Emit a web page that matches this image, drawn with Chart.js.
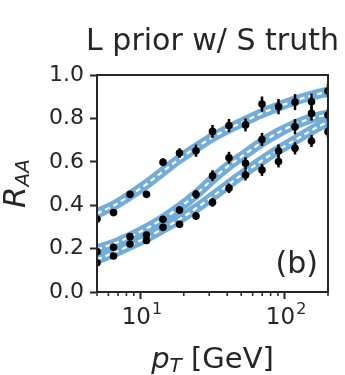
<!DOCTYPE html>
<html>
<head>
<meta charset="utf-8">
<script src="https://cdn.jsdelivr.net/npm/chart.js@4.4.1/dist/chart.umd.min.js"></script>
<style>
  html, body { margin: 0; padding: 0; background: #fff; }
</style>
</head>
<body>
<canvas id="chart-raa" width="345" height="375"></canvas>
<script>
// pT bins (GeV), shared by data points and fit bands
const ptValues = [5, 6.51, 8.47, 11.02, 14.35, 18.67, 24.3, 31.62, 41.15, 53.56, 69.7, 90.71, 118.1, 153.7, 200];

// measured R_AA points
const upperPoints = [0.336, 0.366, 0.450, 0.450, 0.598, 0.640, 0.651, 0.740, 0.767, 0.770, 0.866, 0.854, 0.875, 0.877, 0.926];
const middlePoints = [0.186, 0.206, 0.255, 0.263, 0.335, 0.378, 0.450, 0.536, 0.619, 0.593, 0.703, 0.650, 0.762, 0.823, 0.816];
const lowerPoints = [0.135, 0.166, 0.221, 0.237, 0.298, 0.312, 0.350, 0.413, 0.478, 0.539, 0.562, 0.601, 0.662, 0.696, 0.739];

const upperErrors = [0.008, 0.010, 0.012, 0.014, 0.018, 0.022, 0.028, 0.030, 0.030, 0.030, 0.035, 0.035, 0.037, 0.037, 0.032];
const middleErrors = [0.006, 0.008, 0.010, 0.012, 0.014, 0.018, 0.020, 0.025, 0.027, 0.028, 0.030, 0.030, 0.035, 0.033, 0.030];
const lowerErrors = [0.006, 0.008, 0.010, 0.012, 0.013, 0.015, 0.018, 0.020, 0.022, 0.025, 0.027, 0.027, 0.028, 0.028, 0.028];

// posterior bands (median curve)
const upperBand = [0.362, 0.398, 0.445, 0.497, 0.556, 0.614, 0.665, 0.713, 0.753, 0.789, 0.824, 0.855, 0.882, 0.905, 0.923];
const middleBand = [0.197, 0.222, 0.255, 0.293, 0.338, 0.390, 0.450, 0.520, 0.583, 0.637, 0.690, 0.735, 0.772, 0.800, 0.818];
const lowerBand = [0.151, 0.180, 0.215, 0.250, 0.292, 0.335, 0.385, 0.440, 0.497, 0.553, 0.606, 0.655, 0.700, 0.745, 0.785];

// axis ticks
const xMajorTicks = [10, 100];
const xTickBase = '10';
const xTickExponents = ['1', '2'];
const xMinorTicks = [5, 6, 7, 8, 9, 20, 30, 40, 50, 60, 70, 80, 90, 200];
const yTicks = [0, 0.2, 0.4, 0.6, 0.8, 1.0];

const TEXT_COLOR = '#262626';
const BAND_BLUE = '#72acd9';
const FONT = '"DejaVu Sans"';

const toXY = (values) => values.map((v, i) => ({ x: ptValues[i], y: v }));

function pointSet(values, errors) {
    return {
        type: 'scatter',
        data: toXY(values),
        errors: errors,
        backgroundColor: '#000',
        borderWidth: 0,
        pointRadius: 3.8,
        clip: 0,
        order: 0,
    };
}

function bandSet(values, white) {
    return {
        type: 'line',
        data: toXY(values),
        borderColor: white ? '#fff' : BAND_BLUE,
        borderWidth: white ? 2.2 : 10,
        borderDash: white ? [5, 4] : [],
        pointRadius: 0,
        cubicInterpolationMode: 'monotone',
        fill: false,
        clip: 0,
        order: white ? 1 : 2,
    };
}

const decorations = {
    id: 'decorations',
    beforeDatasetDraw(chart, args) {
        const ds = chart.data.datasets[args.index];
        if (!ds.errors) return;
        const { ctx, chartArea } = chart;
        const xs = chart.scales.x, ys = chart.scales.y;
        ctx.save();
        ctx.beginPath();
        ctx.rect(chartArea.left, chartArea.top, chartArea.width, chartArea.height);
        ctx.clip();
        ctx.strokeStyle = '#000';
        ctx.lineWidth = 2.5;
        ds.data.forEach((p, i) => {
            const px = xs.getPixelForValue(p.x);
            ctx.beginPath();
            ctx.moveTo(px, ys.getPixelForValue(p.y - ds.errors[i]));
            ctx.lineTo(px, ys.getPixelForValue(p.y + ds.errors[i]));
            ctx.stroke();
        });
        ctx.restore();
    },
    afterDraw(chart) {
        const { ctx, chartArea } = chart;
        const xs = chart.scales.x;
        ctx.save();

        // top and right spines
        ctx.strokeStyle = TEXT_COLOR;
        ctx.lineWidth = 2;
        ctx.strokeRect(chartArea.left, chartArea.top, chartArea.width, chartArea.height);

        // minor log ticks
        ctx.lineWidth = 1.5;
        xMinorTicks.forEach(v => {
            const px = xs.getPixelForValue(v);
            ctx.beginPath();
            ctx.moveTo(px, chartArea.bottom);
            ctx.lineTo(px, chartArea.bottom + 4);
            ctx.stroke();
        });

        ctx.fillStyle = TEXT_COLOR;
        ctx.textBaseline = 'alphabetic';
        ctx.textAlign = 'left';

        // log tick labels 10^n
        const baseFont = `23px ${FONT}`, expFont = `16px ${FONT}`;
        xMajorTicks.forEach((v, i) => {
            const px = xs.getPixelForValue(v);
            ctx.font = baseFont; const wb = ctx.measureText(xTickBase).width;
            ctx.font = expFont; const we = ctx.measureText(xTickExponents[i]).width;
            const start = px - (wb + we) / 2 + 1;
            ctx.font = baseFont; ctx.fillText(xTickBase, start, chartArea.bottom + 32);
            ctx.font = expFont; ctx.fillText(xTickExponents[i], start + wb + 1, chartArea.bottom + 22);
        });

        const cx = (chartArea.left + chartArea.right) / 2;

        // title
        ctx.font = `30px ${FONT}`;
        ctx.textAlign = 'center';
        ctx.fillText('L prior w/ S truth', cx, 50);

        // x axis title: p_T [GeV]
        const mainX = `italic 29px ${FONT}`, subX = `italic 20px ${FONT}`, plainX = `29px ${FONT}`;
        ctx.textAlign = 'left';
        ctx.font = mainX; const wp = ctx.measureText('p').width;
        ctx.font = subX; const wt = ctx.measureText('T').width;
        ctx.font = plainX; const wg = ctx.measureText(' [GeV]').width;
        let sx = cx - (wp + wt + wg) / 2;
        ctx.font = mainX; ctx.fillText('p', sx, 368); sx += wp;
        ctx.font = subX; ctx.fillText('T', sx, 372); sx += wt;
        ctx.font = plainX; ctx.fillText(' [GeV]', sx, 368);

        // y axis title: R_AA
        const cy = (chartArea.top + chartArea.bottom) / 2;
        ctx.translate(25, cy);
        ctx.rotate(-Math.PI / 2);
        const mainY = `italic 31px ${FONT}`, subY = `italic 20px ${FONT}`;
        ctx.font = mainY; const wr = ctx.measureText('R').width;
        ctx.font = subY; const wa = ctx.measureText('AA').width;
        let sy = -(wr + wa) / 2;
        ctx.font = mainY; ctx.fillText('R', sy, 0); sy += wr;
        ctx.font = subY; ctx.fillText('AA', sy, 4);
        ctx.setTransform(1, 0, 0, 1, 0, 0);

        // panel label
        ctx.font = `30px ${FONT}`;
        ctx.textAlign = 'right';
        ctx.fillText('(b)', chartArea.right - 10, chartArea.bottom - 19);

        ctx.restore();
    }
};

const chart = new Chart(document.querySelector('#chart-raa'), {
    type: 'scatter',
    data: {
        datasets: [
            pointSet(upperPoints, upperErrors),
            pointSet(middlePoints, middleErrors),
            pointSet(lowerPoints, lowerErrors),
            bandSet(upperBand, true),
            bandSet(middleBand, true),
            bandSet(lowerBand, true),
            bandSet(upperBand, false),
            bandSet(middleBand, false),
            bandSet(lowerBand, false),
        ]
    },
    options: {
        responsive: false,
        animation: false,
        layout: {
            padding: { top: 75, right: 17, bottom: 0, left: 0 }
        },
        scales: {
            x: {
                type: 'logarithmic',
                min: 5,
                max: 200,
                afterBuildTicks: (scale) => {
                    scale.ticks = xMajorTicks.map(v => ({ value: v }));
                },
                afterFit: (scale) => { scale.height = 83; },
                ticks: { display: false },
                grid: {
                    drawOnChartArea: false,
                    tickLength: 7,
                    tickWidth: 2,
                    tickColor: TEXT_COLOR,
                },
                border: { color: TEXT_COLOR, width: 2 },
            },
            y: {
                min: 0,
                max: 1,
                afterBuildTicks: (scale) => {
                    scale.ticks = yTicks.map(v => ({ value: v }));
                },
                afterFit: (scale) => { scale.width = 97; },
                ticks: {
                    color: TEXT_COLOR,
                    font: { family: 'DejaVu Sans', size: 22 },
                    padding: 6,
                    callback: (value) => value.toFixed(1),
                },
                grid: {
                    drawOnChartArea: false,
                    tickLength: 7,
                    tickWidth: 2,
                    tickColor: TEXT_COLOR,
                },
                border: { color: TEXT_COLOR, width: 2 },
            }
        },
        plugins: {
            legend: { display: false },
            tooltip: { enabled: false },
        }
    },
    plugins: [decorations]
});
</script>
</body>
</html>
